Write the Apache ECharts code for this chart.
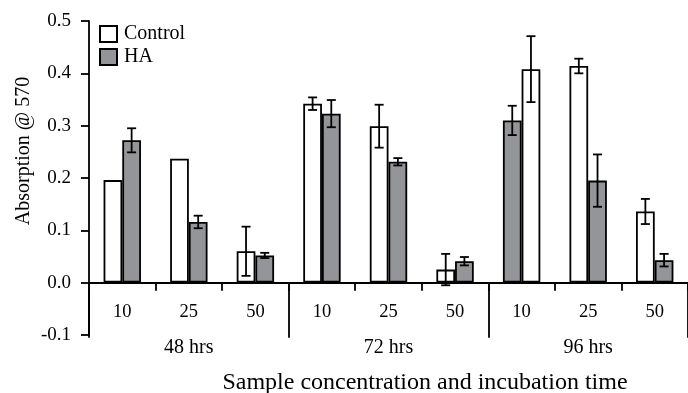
<!DOCTYPE html>
<html>
<head>
<meta charset="utf-8">
<script src="https://cdn.jsdelivr.net/npm/echarts@6/dist/echarts.min.js"></script>
<style>
html,body{margin:0;padding:0;background:#fff;}
#chart{width:688px;height:393px;}
</style>
</head>
<body>
<div id="chart"></div>
<script>
// ---- data ----
const categories = ['10','25','50','10','25','50','10','25','50'];
const groups = ['48 hrs','72 hrs','96 hrs'];
const control    = [0.196, 0.237, 0.060, 0.342, 0.299, 0.025, 0.408, 0.414, 0.136];
const controlErr = [0,     0,     0.047, 0.012, 0.041, 0.030, 0.063, 0.014, 0.024];
const ha         = [0.272, 0.116, 0.052, 0.323, 0.231, 0.041, 0.310, 0.195, 0.043];
const haErr      = [0.023, 0.012, 0.005, 0.026, 0.007, 0.008, 0.028, 0.050, 0.012];
// in this category the HA bar is drawn to the left of the Control bar
const haFirst    = [false, false, false, false, false, false, true, false, false];
const yMin = -0.1, yMax = 0.5, yInterval = 0.1;

// ---- style ----
const FONT = 'Liberation Serif';
const WHITE = '#ffffff';
const GRAY = '#949598';
const BW = 18.7;
const LW = 1.8;

const leftData = [], rightData = [], errData = [];
categories.forEach((c, i) => {
  const cItem = {value: control[i], itemStyle: {color: WHITE}};
  const hItem = {value: ha[i], itemStyle: {color: GRAY}};
  if (haFirst[i]) {
    leftData.push(hItem); rightData.push(cItem);
    if (haErr[i]) errData.push([i, ha[i], haErr[i], -1]);
    if (controlErr[i]) errData.push([i, control[i], controlErr[i], 1]);
  } else {
    leftData.push(cItem); rightData.push(hItem);
    if (controlErr[i]) errData.push([i, control[i], controlErr[i], -1]);
    if (haErr[i]) errData.push([i, ha[i], haErr[i], 1]);
  }
});

const chart = echarts.init(document.getElementById('chart'), null, {renderer: 'canvas'});
const barBorder = {borderColor: '#000', borderWidth: LW};

chart.setOption({
  animation: false,
  backgroundColor: '#fff',
  textStyle: {fontFamily: FONT, color: '#000'},
  legend: {
    data: ['Control', 'HA'],
    orient: 'vertical',
    left: 99, top: 24,
    itemWidth: 17, itemHeight: 16, itemGap: 3,
    icon: 'rect',
    textStyle: {fontFamily: FONT, fontSize: 20, color: '#000', padding: [0,0,0,2]},
    padding: 0
  },
  grid: [
    {left: 89, top: 21, right: -7, bottom: 58},
    {left: 89, top: 282.67, right: -7, height: 55}
  ],
  xAxis: [
    {
      type: 'category', gridIndex: 0, data: categories,
      axisLine: {onZero: true, lineStyle: {color: '#000', width: LW}},
      axisTick: {show: true, length: 8, lineStyle: {color: '#000', width: LW}},
      axisLabel: {show: false},
      splitLine: {show: false}
    },
    {
      type: 'category', gridIndex: 1, data: groups, position: 'bottom',
      axisLine: {show: false, onZero: false},
      axisTick: {show: false},
      axisLabel: {fontFamily: FONT, fontSize: 20, color: '#000', margin: 0, interval: 0},
      splitLine: {show: true, interval: 0, lineStyle: {color: '#000', width: LW}}
    },
    {
      type: 'category', gridIndex: 1, data: categories, position: 'top',
      axisLine: {show: false, onZero: false},
      axisTick: {show: false},
      axisLabel: {inside: true, fontFamily: FONT, fontSize: 18.5, color: '#000', margin: 20, interval: 0},
      splitLine: {show: false}
    }
  ],
  yAxis: [
    {
      type: 'value', gridIndex: 0, min: yMin, max: yMax, interval: yInterval,
      axisLine: {show: true, lineStyle: {color: '#000', width: LW}},
      axisTick: {show: true, length: 8, lineStyle: {color: '#000', width: LW}},
      axisLabel: {fontFamily: FONT, fontSize: 19, color: '#000', margin: 18,
        formatter: v => v.toFixed(1)},
      splitLine: {show: false}
    },
    {type: 'value', gridIndex: 1, show: false, min: 0, max: 1}
  ],
  graphic: [
    {type: 'text', x: 425, y: 383, style: {
      text: 'Sample concentration and incubation time', fontFamily: FONT, fontSize: 24, fill: '#000',
      textAlign: 'center', textVerticalAlign: 'middle'}},
    {type: 'text', x: 24, y: 151, rotation: Math.PI / 2, style: {
      text: 'Absorption @ 570', fontFamily: FONT, fontSize: 20, fill: '#000',
      textAlign: 'center', textVerticalAlign: 'middle'}}
  ],
  series: [
    {name: 'Control', type: 'bar', xAxisIndex: 0, yAxisIndex: 0, barWidth: BW, barGap: '0%',
      itemStyle: Object.assign({color: WHITE}, barBorder), data: leftData},
    {name: 'HA', type: 'bar', xAxisIndex: 0, yAxisIndex: 0, barWidth: BW, barGap: '0%',
      itemStyle: Object.assign({color: GRAY}, barBorder), data: rightData},
    {
      type: 'custom', xAxisIndex: 0, yAxisIndex: 0, z: 5,
      data: errData,
      renderItem: function (params, api) {
        const i = api.value(0), v = api.value(1), e = api.value(2), side = api.value(3);
        const c = api.coord([i, v]);
        const x = c[0] + side * BW / 2;
        const yt = api.coord([i, v + e])[1];
        const yb = api.coord([i, v - e])[1];
        const cap = 4.5;
        const st = {stroke: '#000', lineWidth: LW};
        return {type: 'group', children: [
          {type: 'line', shape: {x1: x, y1: yt, x2: x, y2: yb}, style: st},
          {type: 'line', shape: {x1: x - cap, y1: yt, x2: x + cap, y2: yt}, style: st},
          {type: 'line', shape: {x1: x - cap, y1: yb, x2: x + cap, y2: yb}, style: st}
        ]};
      }
    }
  ]
});
</script>
</body>
</html>
